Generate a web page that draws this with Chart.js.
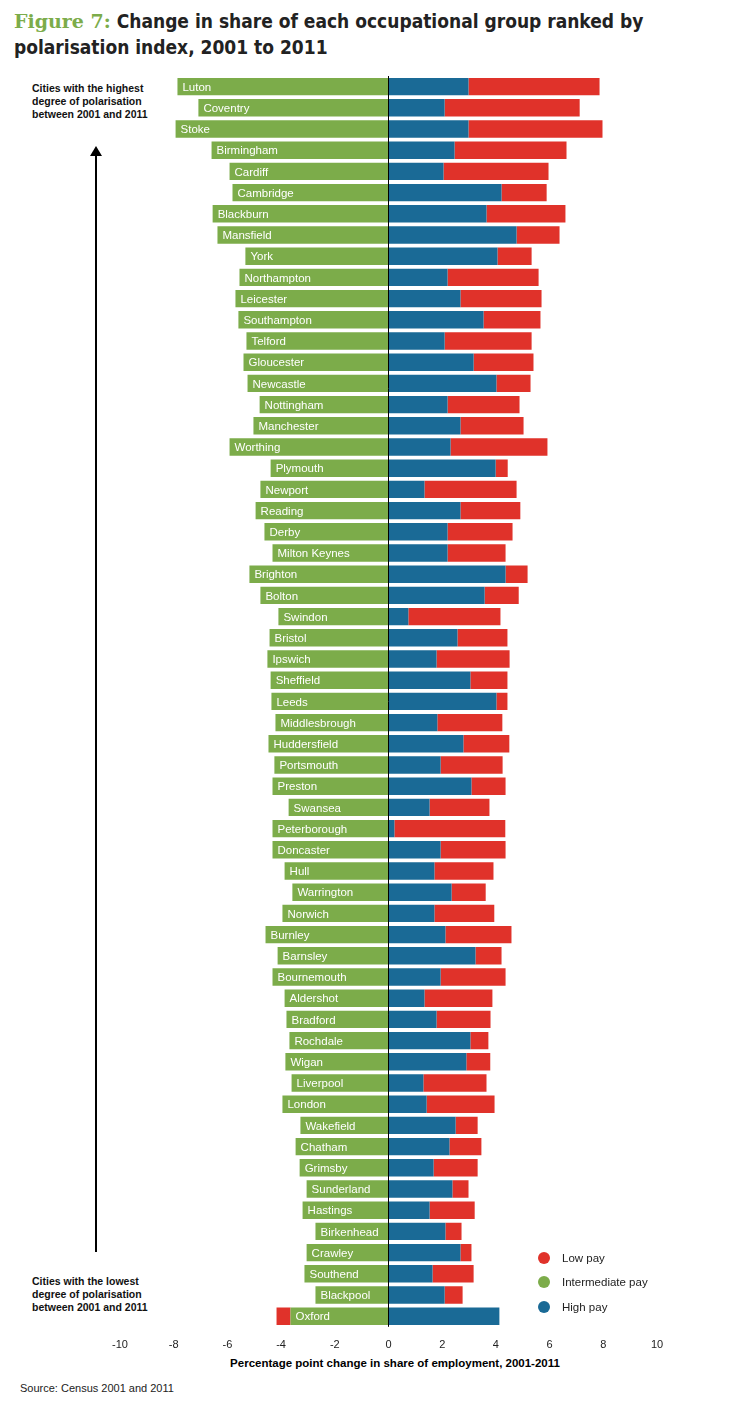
<!DOCTYPE html>
<html><head><meta charset="utf-8">
<script src="https://cdn.jsdelivr.net/npm/chart.js@4/dist/chart.umd.min.js"></script>
<style>
body{margin:0;width:754px;height:1414px;background:#fff;font-family:"Liberation Sans",Arial,sans-serif;position:relative;overflow:hidden}
#title{position:absolute;left:14px;top:8px;width:730px;font-size:19px;font-weight:bold;line-height:26px;color:#222;font-family:"DejaVu Sans Condensed","Liberation Sans",sans-serif}
#title span{color:#7cac4a;font-family:"DejaVu Serif",serif}
#wrap{position:absolute;left:0;top:76px;width:754px;height:1280px}
.note{position:absolute;left:32px;font-size:10.5px;font-weight:bold;line-height:13px;color:#111}
#arrow{position:absolute;left:95px;top:152px;width:2px;height:1100px;background:#000}
#arrowhead{position:absolute;left:90px;top:146px;width:0;height:0;border-left:6px solid transparent;border-right:6px solid transparent;border-bottom:10px solid #000}
#xt{position:absolute;left:0;width:754px;top:1357px;text-align:center;font-size:11.5px;font-weight:bold;padding-left:36px;box-sizing:border-box}
#src{position:absolute;left:20px;top:1382px;font-size:11px;color:#222}
.lg{position:absolute;left:538px;font-size:11.5px;color:#222}
.lg i{display:inline-block;width:12px;height:12px;border-radius:50%;margin-right:12px;vertical-align:-2px}
</style></head><body>
<div id="title"><span>Figure 7:</span> Change in share of each occupational group ranked by polarisation index, 2001 to 2011</div>
<div class="note" style="top:82px">Cities with the highest<br>degree of polarisation<br>between 2001 and 2011</div>
<div class="note" style="top:1275px">Cities with the lowest<br>degree of polarisation<br>between 2001 and 2011</div>
<div id="arrow"></div><div id="arrowhead"></div>
<div id="wrap"><canvas id="c"></canvas></div>
<div class="lg" style="top:1252px"><i style="background:#e0322a"></i>Low pay</div>
<div class="lg" style="top:1276px"><i style="background:#7cac4a"></i>Intermediate pay</div>
<div class="lg" style="top:1301px"><i style="background:#1a6a96"></i>High pay</div>
<div id="xt">Percentage point change in share of employment, 2001-2011</div>
<div id="src">Source: Census 2001 and 2011</div>
<script>
const cities=["Luton","Coventry","Stoke","Birmingham","Cardiff","Cambridge","Blackburn","Mansfield","York","Northampton","Leicester","Southampton","Telford","Gloucester","Newcastle","Nottingham","Manchester","Worthing","Plymouth","Newport","Reading","Derby","Milton Keynes","Brighton","Bolton","Swindon","Bristol","Ipswich","Sheffield","Leeds","Middlesbrough","Huddersfield","Portsmouth","Preston","Swansea","Peterborough","Doncaster","Hull","Warrington","Norwich","Burnley","Barnsley","Bournemouth","Aldershot","Bradford","Rochdale","Wigan","Liverpool","London","Wakefield","Chatham","Grimsby","Sunderland","Hastings","Birkenhead","Crawley","Southend","Blackpool","Oxford"];
const intermediatePay=[-7.86,-7.08,-7.93,-6.59,-5.92,-5.81,-6.55,-6.37,-5.33,-5.55,-5.70,-5.59,-5.29,-5.40,-5.25,-4.80,-5.03,-5.92,-4.39,-4.77,-4.95,-4.62,-4.32,-5.18,-4.77,-4.10,-4.43,-4.51,-4.39,-4.36,-4.21,-4.47,-4.25,-4.32,-3.72,-4.32,-4.32,-3.87,-3.58,-3.95,-4.58,-4.13,-4.32,-3.87,-3.80,-3.69,-3.84,-3.61,-3.95,-3.28,-3.46,-3.31,-3.05,-3.20,-2.72,-3.05,-3.13,-2.72,-3.65];
const highPay=[2.98,2.09,2.98,2.46,2.05,4.21,3.65,4.77,4.06,2.20,2.68,3.54,2.09,3.17,4.02,2.20,2.68,2.31,3.99,1.34,2.68,2.20,2.20,4.36,3.58,0.74,2.57,1.79,3.05,4.02,1.82,2.79,1.94,3.09,1.53,0.22,1.94,1.71,2.35,1.71,2.12,3.24,1.94,1.34,1.79,3.05,2.90,1.30,1.42,2.50,2.27,1.68,2.38,1.53,2.12,2.68,1.64,2.09,4.13];
const lowPay=[4.88,5.03,4.99,4.17,3.91,1.68,2.94,1.60,1.27,3.39,3.02,2.12,3.24,2.23,1.27,2.68,2.35,3.61,0.45,3.43,2.23,2.42,2.16,0.82,1.27,3.43,1.86,2.72,1.38,0.41,2.42,1.71,2.31,1.27,2.23,4.13,2.42,2.20,1.27,2.23,2.46,0.97,2.42,2.53,2.01,0.67,0.89,2.35,2.53,0.82,1.19,1.64,0.60,1.68,0.60,0.41,1.53,0.67,-0.52];
const xTicks=[-10,-8,-6,-4,-2,0,2,4,6,8,10];
const labelPlugin={id:'lbl',afterDatasetsDraw(ch){
  const ctx=ch.ctx, meta=ch.getDatasetMeta(0);
  ctx.save();ctx.fillStyle='#fff';ctx.font='11.5px "Liberation Sans",Arial';ctx.textBaseline='middle';
  meta.data.forEach((b,i)=>{ctx.fillText(cities[i],b.x+5,b.y+1);});
  const x0=ch.scales.x.getPixelForValue(0);
  ctx.strokeStyle='#000';ctx.lineWidth=1;ctx.beginPath();ctx.moveTo(x0,ch.chartArea.top);ctx.lineTo(x0,ch.chartArea.bottom);ctx.stroke();
  ctx.restore();}};
new Chart(document.getElementById('c'),{type:'bar',
 data:{labels:cities,datasets:[
  {label:'Intermediate pay',data:intermediatePay,backgroundColor:'#7cac4a'},
  {label:'High pay',data:highPay,backgroundColor:'#1a6a96'},
  {label:'Low pay',data:lowPay,backgroundColor:'#e0322a'}]},
 options:{indexAxis:'y',responsive:true,maintainAspectRatio:false,animation:false,
  datasets:{bar:{barPercentage:0.82,categoryPercentage:1}},
  layout:{padding:{left:120,right:97,top:0,bottom:0}},
  plugins:{legend:{display:false},tooltip:{enabled:false}},
  scales:{
   x:{stacked:true,min:-10,max:10,grid:{display:false},border:{display:false},
      afterBuildTicks(s){s.ticks=xTicks.map(v=>({value:v}));},
      ticks:{color:'#222',font:{size:11},padding:4}},
   y:{stacked:true,display:false}}},
 plugins:[labelPlugin]});
</script></body></html>
